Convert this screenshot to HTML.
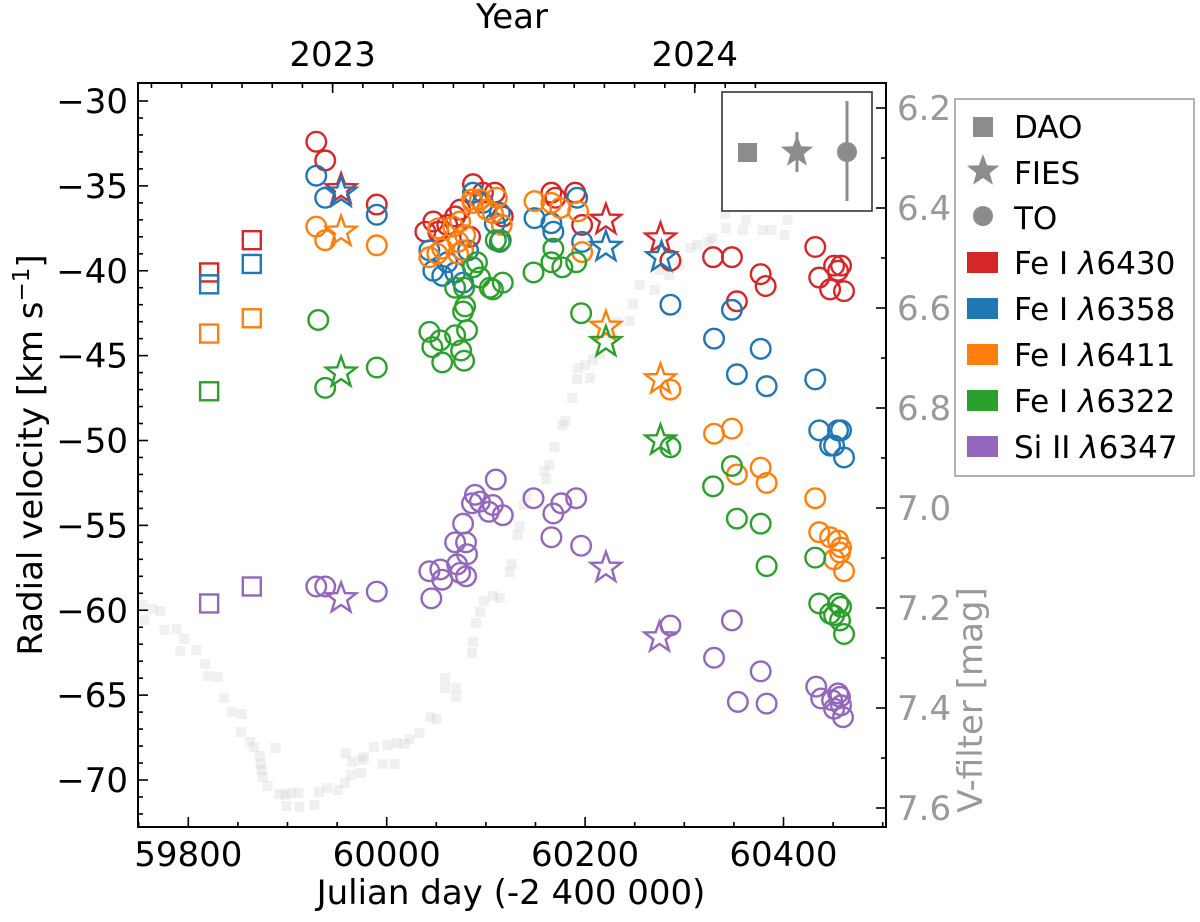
<!DOCTYPE html>
<html><head><meta charset="utf-8"><style>
html,body{margin:0;padding:0;background:#fff}
svg{display:block}
text{font-family:"DejaVu Sans","Liberation Sans",sans-serif}
</style></head><body>
<svg id="chart" width="1200" height="922" viewBox="0 0 1200 922" xmlns="http://www.w3.org/2000/svg">
<g id="vband"></g>
<g id="series"></g>
<g id="axes"></g>
<g id="inset">
  <rect x="722" y="92" width="150" height="119" fill="#fff" stroke="#333" stroke-width="1.6"/>
  <rect x="738" y="143" width="19" height="19" fill="#8c8c8c"/>
  <line x1="797" y1="132" x2="797" y2="172" stroke="#8c8c8c" stroke-width="3"/>
  <polygon id="insetStar" fill="#8c8c8c"/>
  <line x1="847" y1="101" x2="847" y2="201" stroke="#8c8c8c" stroke-width="3"/>
  <circle cx="847" cy="152" r="10" fill="#8c8c8c"/>
</g>
<g id="legend">
  <rect x="955" y="99" width="239" height="377" fill="#fff" stroke="#888" stroke-width="1.3"/>
  <rect x="973" y="117" width="20" height="20" fill="#8c8c8c"/>
  <text x="1014" y="138" font-size="31">DAO</text>
  <polygon id="legStar" fill="#8c8c8c"/>
  <text x="1014" y="184" font-size="31">FIES</text>
  <circle cx="983" cy="216" r="10" fill="#8c8c8c"/>
  <text x="1014" y="229" font-size="31">TO</text>
  <rect x="967" y="252" width="31" height="21" fill="#d62728"/>
  <text x="1014" y="274" font-size="31">Fe I <tspan font-style="italic">λ</tspan>6430</text>
  <rect x="967" y="298" width="31" height="21" fill="#1f77b4"/>
  <text x="1014" y="320" font-size="31">Fe I <tspan font-style="italic">λ</tspan>6358</text>
  <rect x="967" y="344" width="31" height="21" fill="#ff7f0e"/>
  <text x="1014" y="366" font-size="31">Fe I <tspan font-style="italic">λ</tspan>6411</text>
  <rect x="967" y="390" width="31" height="21" fill="#2ca02c"/>
  <text x="1014" y="412" font-size="31">Fe I <tspan font-style="italic">λ</tspan>6322</text>
  <rect x="967" y="436" width="31" height="21" fill="#9467bd"/>
  <text x="1014" y="458" font-size="31">Si II <tspan font-style="italic">λ</tspan>6347</text>
</g>
<text x="511" y="904" font-size="34" text-anchor="middle">Julian day (-2 400 000)</text>
<text x="512" y="28" font-size="34" text-anchor="middle">Year</text>
<text transform="translate(42,455) rotate(-90)" font-size="34" text-anchor="middle">Radial velocity [km s<tspan dy="-13" font-size="23">−1</tspan><tspan dy="13">]</tspan></text>
<text transform="translate(982,700) rotate(-90)" font-size="34" text-anchor="middle" fill="#999">V-filter [mag]</text>
</svg>
<script>
// ---- V-band light curve (right axis) ----
const vDays=[59754,59764,59772,59756,59776,59788,59796,59792,59808,59817,59820,59830,59836,59844,59854,59853,59862,59866,59872,59873,59888,59874,59875,59880,59892,59898,59899,59903,59911,59912,59932,59927,59940,59951,59958,59964,59959,59965,59974,59975,59977,59987,59996,60001,60008,60010,60018,60023,60033,60044,60050,60059,60059,60070,60070,60086,60087,60090,60094,60098,60107,60114,60124,60126,60132,60134,60138,60141,60159,60161,60164,60169,60177,60180,60187,60192,60193,60200,60205,60208,60215,60227,60232,60245,60248,60255,60270,60275,60285,60295,60306,60313,60324,60328,60341,60342,60359,60362,60379,60388,60401,60404];
const vMags=[7.194,7.202,7.206,7.224,7.244,7.242,7.262,7.286,7.284,7.312,7.336,7.338,7.38,7.408,7.412,7.448,7.468,7.478,7.496,7.512,7.48,7.524,7.538,7.556,7.572,7.574,7.596,7.57,7.57,7.598,7.568,7.594,7.56,7.564,7.55,7.534,7.49,7.508,7.53,7.504,7.498,7.478,7.512,7.474,7.512,7.47,7.472,7.462,7.45,7.418,7.422,7.34,7.36,7.36,7.378,7.29,7.268,7.23,7.208,7.186,7.176,7.18,7.128,7.112,7.054,7.036,6.994,6.976,6.926,6.942,6.914,6.878,6.834,6.826,6.78,6.742,6.72,6.714,6.74,6.704,6.692,6.654,6.628,6.626,6.592,6.554,6.564,6.524,6.534,6.514,6.48,6.474,6.468,6.46,6.412,6.44,6.444,6.424,6.444,6.444,6.454,6.424];

// ---- Fe I 6430 (red) ----
const fe6430DaoDays=[59821,59864];
const fe6430DaoRv=[-40.1,-38.2];
const fe6430FiesDays=[59954,60221,60276];
const fe6430FiesRv=[-35.2,-37.0,-38.1];
const fe6430ToDays=[59929,59938,59990,60087,60097,60109,60047,60039,60052,60061,60069,60074,60084,60077,60117,60166,60170,60190,60197,60286,60329,60348,60353,60377,60382,60432,60436,60447,60455,60458,60461,60451];
const fe6430ToRv=[-32.4,-33.5,-36.1,-34.9,-35.4,-35.4,-37.1,-37.7,-37.7,-37.3,-36.8,-36.4,-38.0,-38.8,-36.8,-35.4,-35.7,-35.4,-37.3,-39.4,-39.2,-39.2,-41.8,-40.2,-40.9,-38.6,-40.4,-41.1,-40.0,-39.7,-41.2,-39.7];

// ---- Fe I 6358 (blue) ----
const fe6358DaoDays=[59821,59864];
const fe6358DaoRv=[-40.8,-39.6];
const fe6358FiesDays=[59954,60221,60277];
const fe6358FiesRv=[-35.4,-38.6,-39.2];
const fe6358ToDays=[59929,59938,59990,60043,60047,60056,60061,60069,60077,60082,60087,60109,60114,60097,60114,60149,60166,60168,60192,60197,60286,60330,60348,60353,60377,60383,60432,60436,60447,60455,60458,60461,60451];
const fe6358ToRv=[-34.4,-35.7,-36.7,-38.8,-40.0,-40.3,-39.5,-40.1,-40.7,-38.8,-35.4,-37.2,-36.6,-36.0,-38.3,-36.9,-37.2,-37.7,-35.7,-38.3,-42.0,-44.0,-42.3,-46.1,-44.6,-46.8,-46.4,-49.4,-50.3,-49.4,-49.4,-51.0,-50.3];

// ---- Fe I 6411 (orange) ----
const fe6411DaoDays=[59821,59864];
const fe6411DaoRv=[-43.7,-42.8];
const fe6411FiesDays=[59954,60221,60276];
const fe6411FiesRv=[-37.7,-43.3,-46.4];
const fe6411ToDays=[59929,59938,59990,60086,60094,60111,60107,60116,60101,60087,60052,60067,60074,60079,60043,60051,60056,60072,60077,60072,60149,60166,60175,60193,60197,60286,60330,60348,60353,60377,60383,60432,60436,60447,60455,60458,60461,60451,60457];
const fe6411ToRv=[-37.4,-38.2,-38.5,-35.8,-35.8,-35.7,-36.6,-37.3,-36.4,-36.0,-37.5,-37.4,-37.1,-37.9,-39.2,-39.0,-38.7,-39.0,-38.8,-38.3,-35.9,-36.0,-36.3,-36.5,-38.9,-47.0,-49.6,-49.3,-52.0,-51.6,-52.5,-53.4,-55.4,-55.7,-55.9,-56.3,-57.7,-57.0,-56.6];

// ---- Fe I 6322 (green) ----
const fe6322DaoDays=[59821];
const fe6322DaoRv=[-47.1];
const fe6322FiesDays=[59954,60221,60276];
const fe6322FiesRv=[-46.0,-44.2,-50.0];
const fe6322ToDays=[59931,59938,59990,60110,60115,60091,60087,60094,60104,60107,60117,60069,60078,60079,60077,60081,60069,60043,60054,60046,60056,60075,60078,60148,60168,60166,60177,60191,60196,60286,60329,60348,60353,60377,60383,60432,60436,60447,60455,60458,60461,60451,60457];
const fe6322ToRv=[-42.9,-46.9,-45.7,-38.2,-38.2,-39.5,-39.8,-40.4,-41.0,-41.1,-40.7,-41.0,-41.0,-42.1,-42.4,-43.5,-43.8,-43.6,-44.1,-44.5,-45.4,-44.7,-45.3,-40.1,-38.7,-39.5,-39.8,-39.5,-42.5,-50.4,-52.7,-51.5,-54.6,-54.9,-57.4,-56.9,-59.6,-60.2,-59.6,-59.8,-61.4,-60.3,-60.6];

// ---- Si II 6347 (purple) ----
const si6347DaoDays=[59821,59864];
const si6347DaoRv=[-59.6,-58.6];
const si6347FiesDays=[59954,60221,60275];
const si6347FiesRv=[-59.3,-57.5,-61.6];
const si6347ToDays=[59929,59938,59990,60043,60054,60056,60045,60071,60074,60080,60081,60069,60080,60077,60086,60089,60094,60103,60107,60117,60110,60148,60168,60176,60191,60166,60196,60286,60330,60348,60354,60377,60383,60433,60438,60449,60455,60458,60460,60451,60457];
const si6347ToRv=[-58.6,-58.6,-58.9,-57.7,-57.6,-58.2,-59.3,-57.3,-57.8,-58.0,-56.7,-56.0,-56.0,-54.9,-53.7,-53.2,-53.6,-54.2,-53.8,-54.4,-52.3,-53.4,-54.3,-53.7,-53.4,-55.7,-56.2,-60.9,-62.8,-60.6,-65.4,-63.6,-65.5,-64.5,-65.2,-65.3,-64.9,-65.6,-66.3,-65.8,-65.1];

const rvTicks=[-30,-35,-40,-45,-50,-55,-60,-65,-70];
const dayTicks=[59800,60000,60200,60400];
const magTicks=[6.2,6.4,6.6,6.8,7.0,7.2,7.4,7.6];
const yearLabels=["2023","2024"];
const yearDays=[59945.5,60310.5];

const NS="http://www.w3.org/2000/svg";
const L=138,R=886,T=83,B=827;
function xS(d){return 188.3+(d-59800)*0.992;}
function yS(v){return 101+(-30-v)*16.975;}
function mS(m){return 108+(m-6.2)*500;}
function mk(tag,attrs,parent){const e=document.createElementNS(NS,tag);for(const k in attrs)e.setAttribute(k,attrs[k]);parent.appendChild(e);return e;}
function starPts(cx,cy,ro,ri){let p=[];for(let i=0;i<10;i++){const r=i%2?ri:ro;const a=-Math.PI/2+i*Math.PI/5;p.push((cx+r*Math.cos(a)).toFixed(1)+","+(cy+r*Math.sin(a)).toFixed(1));}return p.join(" ");}
document.getElementById('insetStar').setAttribute('points',starPts(797,152,17,7));
document.getElementById('legStar').setAttribute('points',starPts(983,171,17,7));

const vg=document.getElementById('vband');
for(let i=0;i<vDays.length;i++){
  const r=mk('rect',{x:xS(vDays[i])-5,y:mS(vMags[i])-5,width:10,height:10,fill:'#c8c8c8','fill-opacity':0.28},vg);
  
  
}

const sg=document.getElementById('series');
const seriesList=[
 ['fe6430','#d62728',fe6430DaoDays,fe6430DaoRv,fe6430FiesDays,fe6430FiesRv,fe6430ToDays,fe6430ToRv],
 ['fe6358','#1f77b4',fe6358DaoDays,fe6358DaoRv,fe6358FiesDays,fe6358FiesRv,fe6358ToDays,fe6358ToRv],
 ['fe6411','#ff7f0e',fe6411DaoDays,fe6411DaoRv,fe6411FiesDays,fe6411FiesRv,fe6411ToDays,fe6411ToRv],
 ['fe6322','#2ca02c',fe6322DaoDays,fe6322DaoRv,fe6322FiesDays,fe6322FiesRv,fe6322ToDays,fe6322ToRv],
 ['si6347','#9467bd',si6347DaoDays,si6347DaoRv,si6347FiesDays,si6347FiesRv,si6347ToDays,si6347ToRv]];
for(const s of seriesList){
  const [name,col,dd,dr,fd,fr,td,tr]=s;
  const g=mk('g',{fill:'none',stroke:col,'stroke-width':2.4},sg);
  
  
  for(let i=0;i<td.length;i++){
    const c=mk('circle',{cx:xS(td[i]),cy:yS(tr[i]),r:9.8},g);
    
    
  }
  for(let i=0;i<dd.length;i++){
    const q=mk('rect',{x:xS(dd[i])-9,y:yS(dr[i])-9,width:18,height:18},g);
    
    
  }
  for(let i=0;i<fd.length;i++){
    const p=mk('polygon',{points:starPts(xS(fd[i]),yS(fr[i]),16,6.5)},g);
    
    
  }
}

const ax=document.getElementById('axes');
const frame=mk('rect',{x:L,y:T,width:R-L,height:B-T,fill:'none',stroke:'#000','stroke-width':2},ax);


function ln(x1,y1,x2,y2,c,w){return mk('line',{x1,y1,x2,y2,stroke:c||'#000','stroke-width':w||1.6},ax);}
for(let v=-30;v>=-72;v--){const y=yS(v);if(y>B)break;const maj=(v%5===0);ln(L,y,L+(maj?10:5),y);}
for(const v of rvTicks){
  const t=mk('text',{x:L-10,y:yS(v)+12,'font-size':34,'text-anchor':'end'},ax);
  t.textContent='−'+Math.abs(v);
  
  
}
for(let d=59750;d<=60500;d+=50){const x=xS(d);if(x<L||x>R)continue;const maj=(d%200===0);ln(x,B,x,B-(maj?10:5));}
for(const d of dayTicks){
  const t=mk('text',{x:xS(d),y:B+39,'font-size':34,'text-anchor':'middle'},ax);
  t.textContent=String(d);
  
  
}
for(let k=-12;k<=14;k++){const d=yearDays[0]+k*30.44;const x=xS(d);if(x<L||x>R)continue;ln(x,T,x,T+5);}
for(let i=0;i<yearDays.length;i++){
  const x=xS(yearDays[i]);ln(x,T,x,T+10);
  const t=mk('text',{x:x,y:T-17,'font-size':34,'text-anchor':'middle'},ax);
  t.textContent=yearLabels[i];
  
  
}
for(let m=6.2;m<=7.651;m+=0.1){const y=mS(m);if(y<T||y>B)continue;const maj=Math.round(m*10)%2===0;ln(R,y,R-(maj?10:5),y);}
for(const m of magTicks){
  const t=mk('text',{x:R+11,y:mS(m)+12,'font-size':34,fill:'#999'},ax);
  t.textContent=m.toFixed(1);
  
  
}
</script>
</body></html>
